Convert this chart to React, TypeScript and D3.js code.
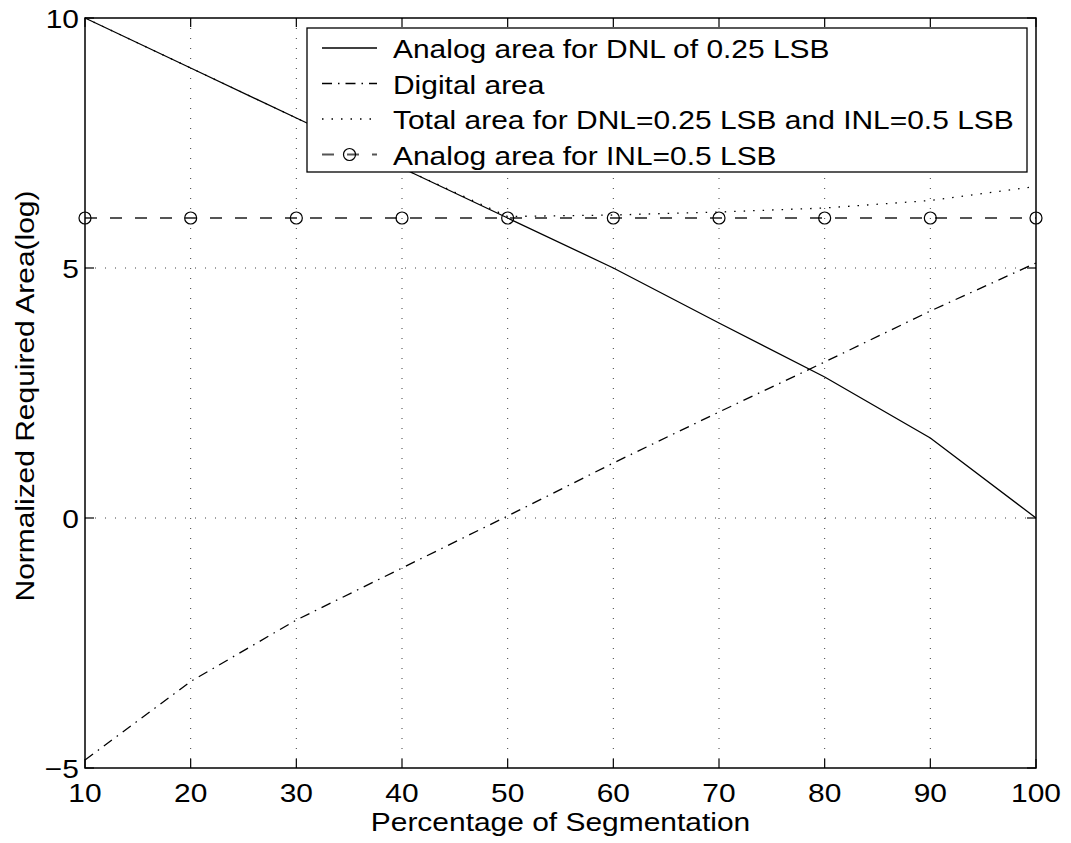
import * as d3 from "d3";

// percentage of segmentation
const segmentation = [10, 20, 30, 40, 50, 60, 70, 80, 90, 100];

// log of normalized area
const analogDnl = [10, 9, 8, 7, 6, 5, 3.9, 2.82, 1.6, 0];
const digitalArea = [-4.84, -3.27, -2.04, -1.0, 0.04, 1.1, 2.12, 3.12, 4.14, 5.1];
const totalArea = [10, 9, 8, 7, 6.03, 6.06, 6.12, 6.2, 6.35, 6.63];
const analogInl = [6, 6, 6, 6, 6, 6, 6, 6, 6, 6];

const xTicks = [10, 20, 30, 40, 50, 60, 70, 80, 90, 100];
const yTicks = [-5, 0, 5, 10];

const legendLabels = [
  "Analog area for DNL of 0.25 LSB",
  "Digital area",
  "Total area for DNL=0.25 LSB and INL=0.5 LSB",
  "Analog area for INL=0.5 LSB",
];

const W = 1071;
const H = 843;
const M = { left: 85, right: 1036, top: 18, bottom: 768 };
const FONT = "'Liberation Sans', Arial, Helvetica, sans-serif";
const FS = 26.5;
const SX = 1.13; // the original font runs wider than Arial

function Label({ x, y, anchor = "start", rotate = 0, children }: any) {
  return (
    <text
      transform={`translate(${x},${y}) rotate(${rotate}) scale(${SX},1)`}
      textAnchor={anchor}
      fontFamily={FONT}
      fontSize={FS}
      fill="#000"
    >
      {children}
    </text>
  );
}

export default function App() {
  document.body.style.margin = "0";

  const x = d3.scaleLinear().domain([10, 100]).range([M.left, M.right]);
  const y = d3.scaleLinear().domain([-5, 10]).range([M.bottom, M.top]);

  const line = (vals: number[]) =>
    d3
      .line<number>()
      .x((_, i) => x(segmentation[i]))
      .y((d) => y(d))(vals) ?? "";

  const tickLen = 9;

  const styles = [
    { dash: undefined, color: "#000", width: 1.3 },
    { dash: "10,6,1.5,6", color: "#000", width: 1.3 },
    { dash: "1.5,8", color: "#000", width: 1.3 },
    { dash: "12,13", color: "#555", width: 1.8 },
  ];
  const series = [analogDnl, digitalArea, totalArea, analogInl];

  const legend = { x0: 307, x1: 1027, y0: 28, y1: 172, row0: 48, step: 35.5 };

  return (
    <svg width={W} height={H} style={{ display: "block", background: "#fff" }}>
      {/* grid */}
      <g stroke="#000" strokeWidth={1} strokeDasharray="1,9" opacity={0.75}>
        {xTicks.slice(1, -1).map((t) => (
          <line key={"gx" + t} x1={x(t)} x2={x(t)} y1={M.top} y2={M.bottom} />
        ))}
        {yTicks.slice(1, -1).map((t) => (
          <line key={"gy" + t} x1={M.left} x2={M.right} y1={y(t)} y2={y(t)} />
        ))}
      </g>

      {/* series */}
      {series.map((s, i) => (
        <path
          key={"s" + i}
          d={line(s)}
          fill="none"
          stroke={styles[i].color}
          strokeWidth={styles[i].width}
          strokeDasharray={styles[i].dash}
        />
      ))}
      {analogInl.map((v, i) => (
        <circle
          key={"m" + i}
          cx={x(segmentation[i])}
          cy={y(v)}
          r={6}
          fill="none"
          stroke="#000"
          strokeWidth={1.2}
        />
      ))}

      {/* frame and ticks */}
      <rect
        x={M.left}
        y={M.top}
        width={M.right - M.left}
        height={M.bottom - M.top}
        fill="none"
        stroke="#000"
        strokeWidth={1.5}
      />
      <g stroke="#000" strokeWidth={1.2}>
        {xTicks.map((t) => (
          <g key={"tx" + t}>
            <line x1={x(t)} x2={x(t)} y1={M.bottom} y2={M.bottom - tickLen} />
            <line x1={x(t)} x2={x(t)} y1={M.top} y2={M.top + tickLen} />
          </g>
        ))}
        {yTicks.map((t) => (
          <g key={"ty" + t}>
            <line x1={M.left} x2={M.left + tickLen} y1={y(t)} y2={y(t)} />
            <line x1={M.right} x2={M.right - tickLen} y1={y(t)} y2={y(t)} />
          </g>
        ))}
      </g>

      {/* tick labels */}
      {xTicks.map((t) => (
        <Label key={"lx" + t} x={x(t)} y={M.bottom + 34} anchor="middle">
          {t}
        </Label>
      ))}
      {yTicks.map((t) => (
        <Label key={"ly" + t} x={M.left - 6} y={y(t) + 10} anchor="end">
          {t < 0 ? "\u2212" + Math.abs(t) : t}
        </Label>
      ))}
      <Label x={(M.left + M.right) / 2} y={831} anchor="middle">
        Percentage of Segmentation
      </Label>
      <Label x={34} y={(M.top + M.bottom) / 2 + 3} anchor="middle" rotate={-90}>
        Normalized Required Area(log)
      </Label>

      {/* legend */}
      <g>
        <rect
          x={legend.x0}
          y={legend.y0}
          width={legend.x1 - legend.x0}
          height={legend.y1 - legend.y0}
          fill="#fff"
          stroke="#000"
          strokeWidth={1.3}
        />
        {legendLabels.map((lab, i) => {
          const cy = legend.row0 + i * legend.step;
          return (
            <g key={"lg" + i}>
              <line
                x1={322}
                x2={377}
                y1={cy}
                y2={cy}
                stroke={styles[i].color}
                strokeWidth={styles[i].width}
                strokeDasharray={styles[i].dash}
              />
              {i === 3 && (
                <circle cx={349.5} cy={cy} r={6} fill="none" stroke="#000" strokeWidth={1.2} />
              )}
              <Label x={393} y={cy + 10}>
                {lab}
              </Label>
            </g>
          );
        })}
      </g>
    </svg>
  );
}
